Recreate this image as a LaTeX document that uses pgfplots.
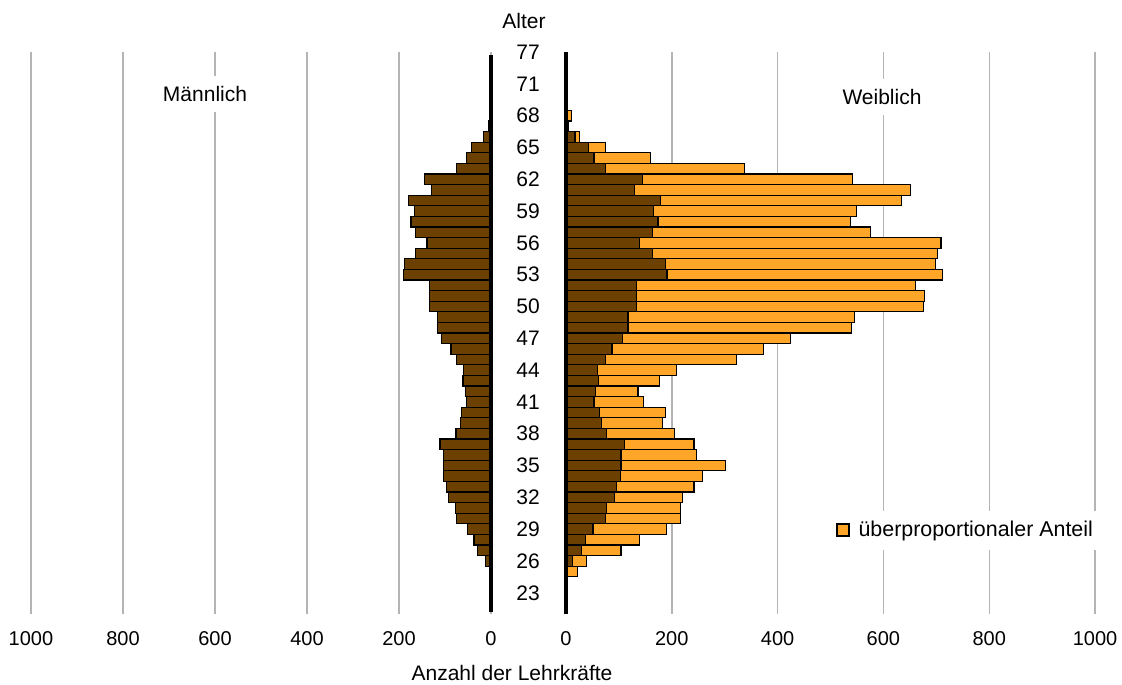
\documentclass[border=0pt]{standalone}
\usepackage{pgfplots}
\pgfplotsset{compat=1.18}
\usepackage{pgfplotstable}
\usepackage{fontspec}
\setmainfont{Liberation Sans}
\definecolor{mbrown}{HTML}{6B4000}
\definecolor{forange}{HTML}{FFA628}
\definecolor{gridgray}{HTML}{B4B4B4}

\pgfplotstableread{
age male female
23 0 0
24 0 0
25 0 21
26 12 38
27 29 104
28 37 139
29 51 190
30 75 216
31 77 217
32 92 220
33 96 242
34 103 258
35 104 302
36 104 247
37 111 242
38 76 205
39 67 183
40 64 188
41 53 147
42 56 136
43 61 176
44 59 209
45 75 322
46 87 374
47 107 425
48 117 540
49 117 546
50 134 676
51 133 678
52 133 661
53 191 711
54 188 698
55 164 702
56 139 709
57 164 575
58 174 538
59 166 549
60 179 634
61 130 651
62 145 541
63 75 337
64 53 159
65 42 75
66 17 25
67 5 2
68 0 10
}\datatable

\pgfplotsset{
  pyr/.style={
    scale only axis, height=281pt,
    ymin=21, ymax=74, xmin=0, xmax=1000,
    xtick={0,200,400,600,800,1000},
    xticklabels={0,200,400,600,800,1000},
    xmajorgrids, grid style={gridgray, line width=0.7pt},
    axis line style={draw=none},
    major tick length=0pt,
    xticklabel style={anchor=center, yshift=-12.5pt, font=\fontsize{10}{12}\selectfont},
    clip=false,
  },
  pbar/.style={xbar, bar shift=0pt, bar width=5.3pt, draw=black, line width=0.6pt},
}

\begin{document}
\begin{tikzpicture}
\path[use as bounding box] (0pt,0pt) rectangle (561pt,-342pt);

% Left: male
\begin{axis}[pyr, at={(15.5pt,-307pt)}, anchor=south west, width=230pt,
  x dir=reverse, ytick=\empty]
  \addplot[pbar, fill=mbrown] table[x=male, y=age] {\datatable};
  \draw[line width=2.4pt] (axis cs:0,21.2) -- (axis cs:0,73.7);
\end{axis}

% Right: female
\begin{axis}[pyr, at={(283pt,-307pt)}, anchor=south west, width=264.5pt,
  ytick={23,26,29,32,35,38,41,44,47,50,53,56,59,62,65,68,71,74},
  yticklabels={23,26,29,32,35,38,41,44,47,50,53,56,59,62,65,68,71,77},
  yticklabel style={anchor=center, xshift=-19pt, font=\fontsize{10.5}{12}\selectfont},
  legend style={at={(0.757,0.149)}, anchor=center, draw=none, fill=white,
    font=\fontsize{10.7}{12}\selectfont, inner sep=3pt,
    /tikz/every odd column/.append style={column sep=2.5pt}},
  legend image code/.code={\draw[fill=forange, draw=black, line width=0.8pt] (0pt,-3pt) rectangle (6pt,3pt);},
  legend cell align=left]
  \addplot[pbar, fill=forange] table[x=female, y=age] {\datatable};
  \addlegendentry{überproportionaler Anteil}
  \addplot[pbar, fill=mbrown, forget plot] table[x=male, y=age] {\datatable};
  \draw[line width=2.4pt] (axis cs:0,21) -- (axis cs:0,74);
\end{axis}

\node[font=\fontsize{10.5}{12}\selectfont] at (262pt,-10.5pt) {Alter};
\node[font=\fontsize{10.5}{12}\selectfont, fill=white, inner xsep=2pt, inner ysep=5pt] at (102.5pt,-47pt) {Männlich};
\node[font=\fontsize{10.5}{12}\selectfont, fill=white, inner xsep=2pt, inner ysep=5pt] at (441pt,-48.5pt) {Weiblich};
\node[font=\fontsize{10.5}{12}\selectfont] at (256pt,-336.5pt) {Anzahl der Lehrkräfte};
\end{tikzpicture}
\end{document}
